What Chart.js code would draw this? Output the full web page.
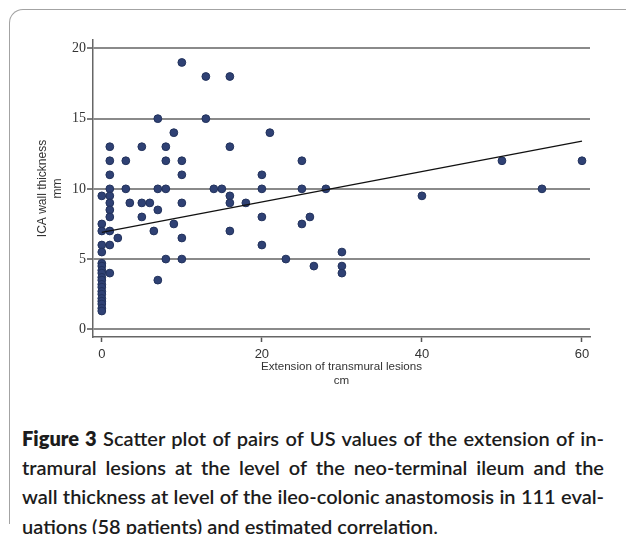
<!DOCTYPE html>
<html lang="en">
<head>
<meta charset="UTF-8">
<title>Figure 3 - Scatter plot</title>
<script src="https://cdn.jsdelivr.net/npm/chart.js"></script>
<style>
    body {
        margin: 0;
        width: 626px;
        height: 534px;
        background: #fff;
        overflow: hidden;
        position: relative;
        font-family: Lato, "Open Sans", sans-serif;
    }
    .frame {
        position: absolute;
        left: 9px;
        top: 9px;
        width: 660px;
        height: 514px;
        border-top: 1.5px solid #a3a3a3;
        border-left: 1.5px solid #a3a3a3;
        border-top-left-radius: 14px;
    }
    .plot {
        position: absolute;
        left: 0;
        top: 0;
        width: 626px;
        height: 400px;
    }
    .caption {
        position: absolute;
        left: 22px;
        top: 424px;
        width: 582px;
        font-size: 22px;
        line-height: 29.2px;
        font-weight: 600;
        color: #1c1c1c;
    }
    .caption div {
        white-space: nowrap;
        text-align: justify;
        text-align-last: justify;
    }
    .caption div.last,
    .caption.measuring div {
        text-align-last: left;
    }
    .caption b { font-weight: 800; }
    .caption .dot { font-weight: 400; }
</style>
</head>
<body>
<div class="frame"></div>
<div class="plot"><canvas id="scatter"></canvas></div>
<div class="caption" id="caption">
    <div><span><b>Figure 3</b> Scatter plot of pairs of US values of the extension of in-</span></div>
    <div><span>tramural lesions at the level of the neo-terminal ileum and the</span></div>
    <div><span>wall thickness at level of the ileo-colonic anastomosis in 111 eval-</span></div>
    <div class="last"><span>uations (58 patients) and estimated correlation<span class="dot">.</span></span></div>
</div>

<script>
// tick values
const xTicks = [0, 20, 40, 60];
const yTicks = [0, 5, 10, 15, 20];

// extension of transmural lesions (cm), one entry per evaluation
const lesionCm = [
    0, 0, 0, 0, 0, 0, 0, 0, 0, 0, 0, 0, 0, 0, 0, 0, 0, 0, 0, 0,
    1, 1, 1, 1, 1, 1, 1, 1, 1, 1, 1,
    2, 3, 3, 3.5, 5, 5, 5, 6, 6.5,
    7, 7, 7, 7, 8, 8, 8, 8, 9, 9,
    10, 10, 10, 10, 10, 10, 13, 13, 14, 15,
    16, 16, 16, 16, 16, 18, 20, 20, 20, 20,
    21, 23, 25, 25, 25, 26, 26.5, 28, 30, 30, 30,
    40, 50, 55, 60
];

// ICA wall thickness (mm), same order
const wallMm = [
    9.5, 7.5, 7, 6, 5.5, 4.7, 4.5, 4.2, 4, 3.7, 3.5, 3.2, 3, 2.7, 2.5, 2.2, 2, 1.8, 1.5, 1.3,
    13, 12, 11, 10, 9.5, 9, 8.5, 8, 7, 6, 4,
    6.5, 12, 10, 9, 13, 9, 8, 9, 7,
    15, 10, 8.5, 3.5, 13, 12, 10, 5, 14, 7.5,
    19, 12, 11, 9, 6.5, 5, 18, 15, 10, 10,
    18, 13, 9.5, 9, 7, 9, 11, 10, 8, 6,
    14, 5, 12, 10, 7.5, 8, 4.5, 10, 5.5, 4.5, 4,
    9.5, 12, 10, 12
];

// estimated correlation line
const fitX = [0, 60];
const fitY = [6.9, 13.4];

// shrink caption font until the widest (unjustified) line fits the text block
(function fitCaption() {
    const cap = document.getElementById('caption');
    const spans = cap.querySelectorAll(':scope > div > span');
    cap.classList.add('measuring');
    let size = 22;
    const widest = () => Math.max(...Array.from(spans).map(s => s.getBoundingClientRect().width));
    while (size > 12 && widest() > 580) {
        size -= 0.25;
        cap.style.fontSize = size + 'px';
    }
    cap.classList.remove('measuring');
})();

const ctx = document.getElementById('scatter').getContext('2d');

new Chart(ctx, {
    type: 'scatter',
    data: {
        datasets: [
            {
                label: 'Fit',
                data: fitX.map((x, i) => ({ x: x, y: fitY[i] })),
                showLine: true,
                borderColor: '#111',
                borderWidth: 1.4,
                pointRadius: 0,
                fill: false
            },
            {
                label: 'Evaluations',
                data: lesionCm.map((x, i) => ({ x: x, y: wallMm[i] })),
                backgroundColor: '#2f4174',
                borderColor: '#22325c',
                borderWidth: 1,
                pointRadius: 3.9
            }
        ]
    },
    options: {
        responsive: true,
        maintainAspectRatio: false,
        animation: false,
        layout: {
            padding: { left: 23, right: 36, top: 40, bottom: 8 }
        },
        plugins: {
            legend: { display: false },
            tooltip: { enabled: false }
        },
        scales: {
            x: {
                type: 'linear',
                min: -1.1,
                max: 61,
                afterBuildTicks: s => { s.ticks = xTicks.map(v => ({ value: v })); },
                afterFit: s => { s.height = 55; },
                grid: {
                    drawOnChartArea: false,
                    drawTicks: true,
                    tickLength: 5,
                    tickColor: '#555',
                    tickWidth: 1.5
                },
                border: { display: true, color: '#666', width: 1.5 },
                ticks: {
                    font: { family: 'Liberation Sans', size: 13 },
                    color: '#333',
                    padding: 5,
                    maxRotation: 0
                },
                title: {
                    display: true,
                    text: ['Extension of transmural lesions', 'cm'],
                    font: { family: 'Liberation Sans', size: 11.6, lineHeight: '14px' },
                    color: '#333',
                    padding: { top: 0, bottom: 4 }
                }
            },
            y: {
                min: -0.55,
                max: 20.6,
                afterBuildTicks: s => { s.ticks = yTicks.map(v => ({ value: v })); },
                afterFit: s => { s.width = 70; },
                grid: {
                    color: '#8a8a8a',
                    lineWidth: 2,
                    tickLength: 6,
                    tickColor: '#555',
                    tickWidth: 1.5
                },
                border: { display: true, color: '#666', width: 1.5 },
                ticks: {
                    font: { family: 'Liberation Serif', size: 14 },
                    color: '#333',
                    padding: 1
                },
                title: {
                    display: true,
                    text: ['ICA wall thickness', 'mm'],
                    font: { family: 'Liberation Sans', size: 12, lineHeight: '14.5px' },
                    color: '#333',
                    padding: { top: 12.75, bottom: 0 }
                }
            }
        }
    }
});
</script>
</body>
</html>
